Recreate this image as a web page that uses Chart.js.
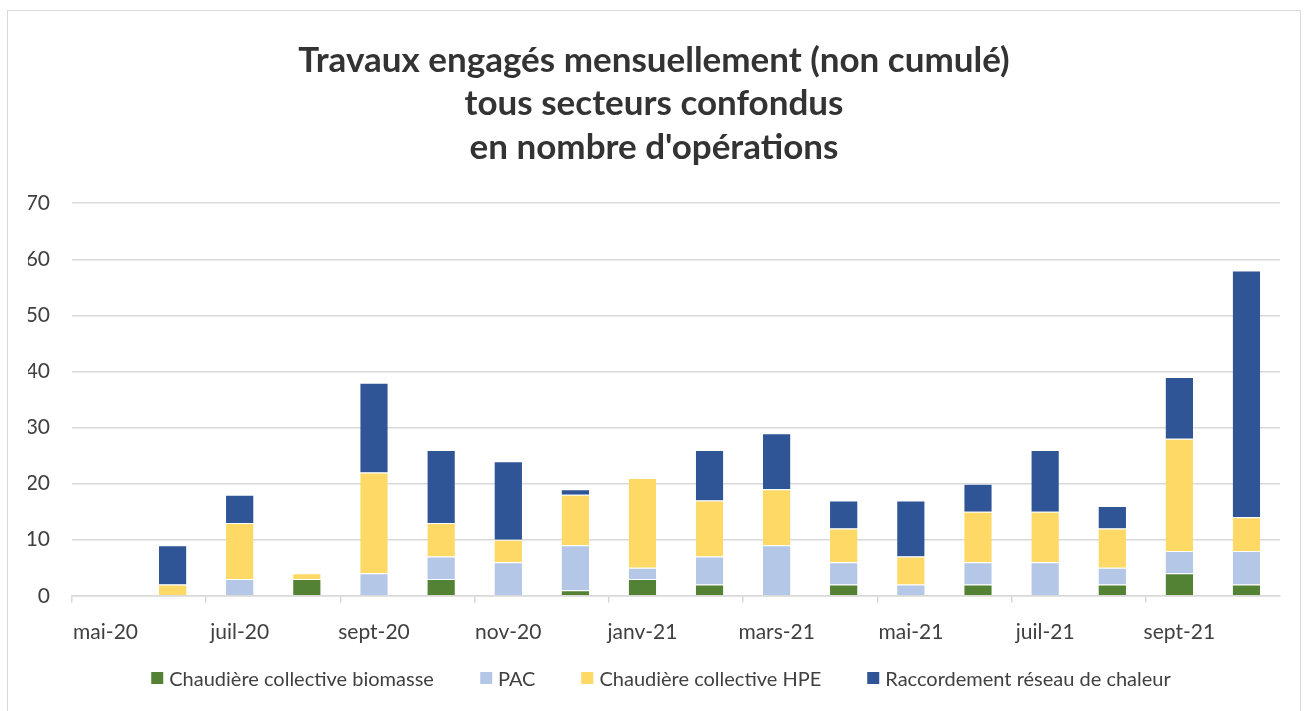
<!DOCTYPE html>
<html>
<head>
<meta charset="utf-8">
<script src="https://cdn.jsdelivr.net/npm/chart.js@4.4.0/dist/chart.umd.min.js"></script>
<style>
  html, body { margin: 0; padding: 0; background: #fff; }
  #frame { position: absolute; left: 7px; top: 10px; width: 1294px; height: 705px; border: 1px solid #d9d9d9; box-sizing: border-box; background:#fff; }
  #wrap { position: absolute; left: 0px; top: 0px; width: 1292px; height: 701px; }
  #legend { position: absolute; left: 661px; top: 666px; transform: translateX(-50%); display: flex; align-items: center; white-space: nowrap;
            font-family: Lato, "Open Sans", sans-serif; font-size: 20px; color: #404040; line-height: 24px; }
  #legend .item { display: flex; align-items: center; margin-right: 46px; }
  #legend .item:last-child { margin-right: 0; }
  #legend .box { width: 12px; height: 12px; margin-right: 6px; display: inline-block; }
</style>
</head>
<body>
<div id="frame"><div id="wrap"><canvas id="c"></canvas></div></div>
<div id="legend"></div>
<script>
const categories = ['mai-20','juin-20','juil-20','août-20','sept-20','oct-20','nov-20','déc-20','janv-21','févr-21','mars-21','avr-21','mai-21','juin-21','juil-21','août-21','sept-21','oct-21'];
const biomasse  = [0,0,0,3,0,3,0,1,3,2,0,2,0,2,0,2,4,2];
const pac       = [0,0,3,0,4,4,6,8,2,5,9,4,2,4,6,3,4,6];
const hpe       = [0,2,10,1,18,6,4,9,16,10,10,6,5,9,9,7,20,6];
const raccord   = [0,7,5,0,16,13,14,1,0,9,10,5,10,5,11,4,11,44];
const seriesNames = ['Chaudière collective biomasse','PAC','Chaudière collective HPE','Raccordement réseau de chaleur'];
const titleLines = ["Travaux engagés mensuellement (non cumulé)", "tous secteurs confondus", "en nombre d'opérations"];

const colors = ['#548235','#b4c7e7','#ffd966','#2f5597'];
const data = [biomasse, pac, hpe, raccord];
const FONT = 'Lato, "Open Sans", sans-serif';

const chart = new Chart(document.getElementById('c'), {
  type: 'bar',
  data: {
    labels: categories,
    datasets: data.map((d, i) => ({
      label: seriesNames[i],
      data: d,
      backgroundColor: colors[i],
      borderColor: '#ffffff',
      borderWidth: {top: 1, bottom: 0, left: 0, right: 0},
      borderSkipped: false,
      barPercentage: 0.41,
      categoryPercentage: 1.0
    }))
  },
  options: {
    responsive: true,
    maintainAspectRatio: false,
    animation: false,
    layout: { padding: { left: 20, right: 20, top: 20, bottom: 50 } },
    plugins: {
      title: {
        display: true,
        text: titleLines,
        color: '#333333',
        font: { family: FONT, size: 35, weight: 'bold', lineHeight: 1.24 },
        padding: { top: 8, bottom: 34 }
      },
      legend: { display: false },
      tooltip: { enabled: false }
    },
    scales: {
      x: {
        stacked: true,
        grid: {
          offset: true,
          drawOnChartArea: false,
          drawTicks: true,
          tickLength: 7,
          color: (ctx) => (ctx.index % 2 === 0 ? '#d9d9d9' : 'rgba(0,0,0,0)'),
          lineWidth: 1.5
        },
        border: { display: true, color: '#d9d9d9', width: 1.5 },
        ticks: {
          autoSkip: false,
          maxRotation: 0,
          color: '#404040',
          font: { family: FONT, size: 21 },
          padding: 17,
          callback: function(v, i) { return i % 2 === 0 ? this.getLabelForValue(v) : ''; }
        }
      },
      y: {
        stacked: true,
        min: 0, max: 70,
        ticks: { stepSize: 10, color: '#404040', font: { family: FONT, size: 21 }, padding: 22 },
        grid: { color: '#d9d9d9', lineWidth: 1.5, drawTicks: false },
        border: { display: false },
        afterFit: (scale) => { scale.width = 44; }
      }
    }
  }
});

// HTML legend built from the chart's datasets
const legendEl = document.getElementById('legend');
chart.data.datasets.forEach(ds => {
  const item = document.createElement('span');
  item.className = 'item';
  const box = document.createElement('span');
  box.className = 'box';
  box.style.background = ds.backgroundColor;
  const txt = document.createElement('span');
  txt.textContent = ds.label;
  item.appendChild(box); item.appendChild(txt);
  legendEl.appendChild(item);
});
</script>
</body>
</html>
